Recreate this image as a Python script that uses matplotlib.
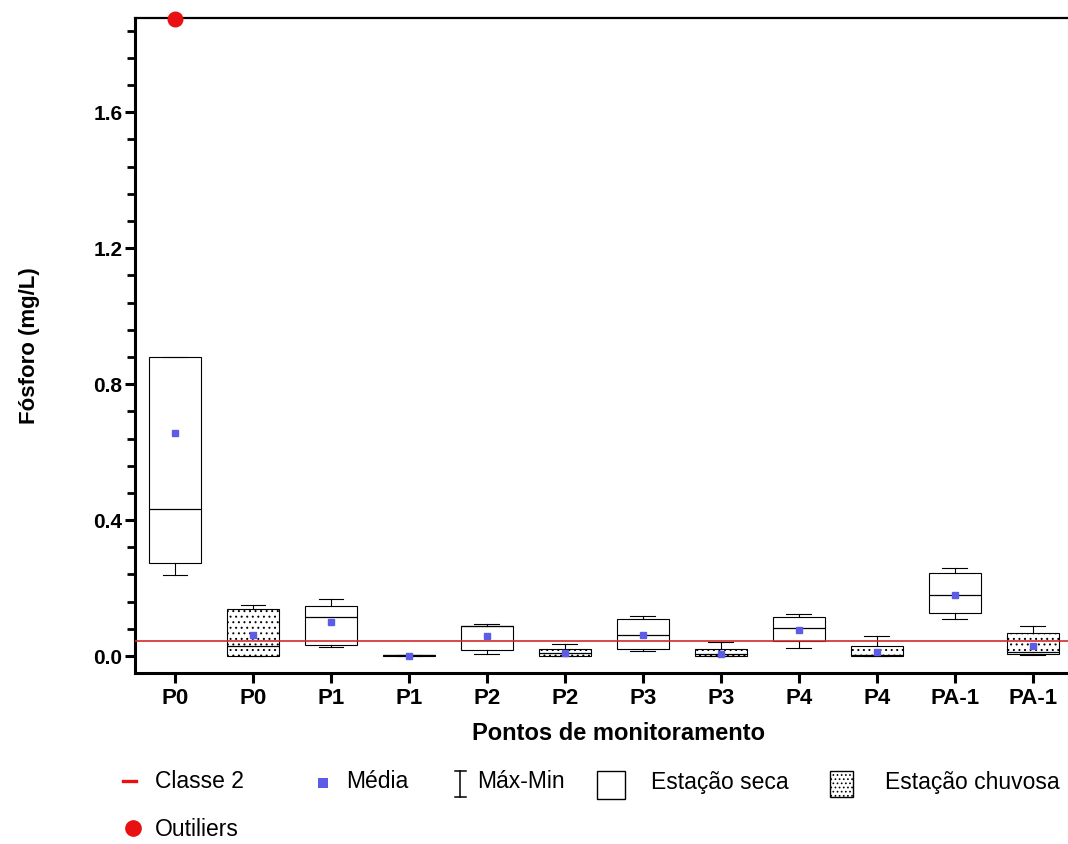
import matplotlib
matplotlib.use("Agg")
import matplotlib.pyplot as plt
from matplotlib.ticker import MultipleLocator, FormatStrFormatter
from matplotlib.patches import Rectangle
from matplotlib.lines import Line2D

plt.rcParams['font.family'] = ['Liberation Sans', 'DejaVu Sans']
plt.rcParams['hatch.linewidth'] = 0.7
plt.rcParams['hatch.color'] = 'black'

# ---- data ----
categories = ["P0", "P0", "P1", "P1", "P2", "P2", "P3", "P3", "P4", "P4", "PA-1", "PA-1"]
seasons = ["seca", "chuvosa"] * 6
whislo = [0.238, 0.000, 0.027, 0.000, 0.006, 0.000, 0.015, 0.000, 0.023, 0.000, 0.108, 0.003]
q1     = [0.273, 0.001, 0.032, 0.000, 0.018, 0.000, 0.020, 0.000, 0.044, 0.000, 0.126, 0.005]
med    = [0.432, 0.030, 0.116, 0.002, 0.087, 0.008, 0.063, 0.005, 0.083, 0.004, 0.179, 0.013]
q3     = [0.879, 0.137, 0.148, 0.004, 0.088, 0.020, 0.108, 0.020, 0.116, 0.029, 0.245, 0.067]
whishi = [0.879, 0.150, 0.168, 0.004, 0.094, 0.034, 0.119, 0.042, 0.123, 0.059, 0.258, 0.089]
means  = [0.656, 0.062, 0.101, 0.001, 0.060, 0.008, 0.063, 0.006, 0.076, 0.011, 0.181, 0.029]
outliers = [[1.875], [], [], [], [], [], [], [], [], [], [], []]
classe2 = 0.043

# ---- figure ----
W, H = 1068, 844
fig = plt.figure(figsize=(W / 100, H / 100), dpi=100)
ax_l, ax_r, ax_t, ax_b = 135, 1068, 17.5, 673
ax = fig.add_axes([ax_l / W, 1 - ax_b / H, (ax_r - ax_l) / W, (ax_b - ax_t) / H])

stats = []
for i in range(len(categories)):
    stats.append(dict(label=categories[i], whislo=whislo[i], q1=q1[i], med=med[i],
                      q3=q3[i], whishi=whishi[i], mean=means[i], fliers=outliers[i]))

positions = list(range(len(categories)))
bp = ax.bxp(stats, positions=positions, widths=0.667, patch_artist=True,
            showmeans=True, showfliers=True,
            boxprops=dict(linewidth=0.8, edgecolor='black', facecolor='white'),
            medianprops=dict(color='black', linewidth=0.9),
            whiskerprops=dict(color='black', linewidth=0.8),
            capprops=dict(color='black', linewidth=0.8),
            capwidths=0.32,
            meanprops=dict(marker='s', markersize=4.2, markerfacecolor='#5c5ce6',
                           markeredgecolor='#5c5ce6'),
            flierprops=dict(marker='o', markersize=10.5, markerfacecolor='#e81010',
                            markeredgecolor='#e81010'))
for patch, s in zip(bp['boxes'], seasons):
    if s == 'chuvosa':
        patch.set_hatch('...')
for fl in bp['fliers']:
    fl.set_clip_on(False)
    fl.set_zorder(5)

ax.axhline(classe2, color='#d42a2a', linewidth=1.2, zorder=4)

ax.set_xlim(-0.513, 11.45)
ax.set_ylim(-0.05, 1.879)
ax.set_xticks(positions)
ax.set_xticklabels(categories, fontsize=16, fontweight='bold')
ax.yaxis.set_major_locator(MultipleLocator(0.4))
ax.yaxis.set_minor_locator(MultipleLocator(0.08))
ax.yaxis.set_major_formatter(FormatStrFormatter('%.1f'))
for lab in ax.get_yticklabels():
    lab.set_fontweight('bold')
    lab.set_fontsize(15)
ax.tick_params(axis='y', which='major', length=7, width=2.2, pad=2, labelsize=15)
ax.tick_params(axis='y', which='minor', length=6, width=2.0)
ax.tick_params(axis='x', which='major', length=7, width=2.2, pad=4)

ax.spines['right'].set_visible(False)
ax.spines['left'].set_linewidth(2.2)
ax.spines['bottom'].set_linewidth(2.2)
ax.spines['top'].set_linewidth(1.6)

ax.set_ylabel('Fósforo (mg/L)', fontsize=16, fontweight='bold')
ax.yaxis.set_label_coords((40 - ax_l) / (ax_r - ax_l), 0.5)
ax.set_xlabel('Pontos de monitoramento', fontsize=17, fontweight='bold')
ax.xaxis.set_label_coords((618 - ax_l) / (ax_r - ax_l), (ax_b - 722) / (ax_b - ax_t))

# ---- custom legend (figure pixel coordinates) ----
lax = fig.add_axes([0, 0, 1, 1])
lax.set_xlim(0, W)
lax.set_ylim(H, 0)
lax.axis('off')
fs = 16.5
lax.add_line(Line2D([123, 136], [781, 781], color='#e81010', linewidth=2.4))
lax.text(155, 782, 'Classe 2', fontsize=fs, va='center', ha='left')
lax.add_patch(Rectangle((318, 778), 10, 10, facecolor='#5c5ce6', edgecolor='none'))
lax.text(346, 782, 'Média', fontsize=fs, va='center', ha='left')
lax.add_line(Line2D([460, 460], [771, 797], color='black', linewidth=1.1))
lax.add_line(Line2D([455, 466], [771, 771], color='black', linewidth=1.1))
lax.add_line(Line2D([455, 466], [797, 797], color='black', linewidth=1.1))
lax.text(477, 782, 'Máx-Min', fontsize=fs, va='center', ha='left')
lax.add_patch(Rectangle((597, 771), 28, 28, facecolor='white', edgecolor='black', linewidth=1.0))
lax.text(651, 782, 'Estação seca', fontsize=fs, va='center', ha='left')
lax.add_patch(Rectangle((830, 771), 23, 26, facecolor='white', edgecolor='black',
                        linewidth=1.0, hatch='....'))
lax.text(885, 782, 'Estação chuvosa', fontsize=fs, va='center', ha='left')
lax.plot([133], [828], marker='o', markersize=11, color='#e81010', linestyle='none')
lax.text(155, 829, 'Outiliers', fontsize=fs, va='center', ha='left')

fig.savefig('out.png', dpi=100)
